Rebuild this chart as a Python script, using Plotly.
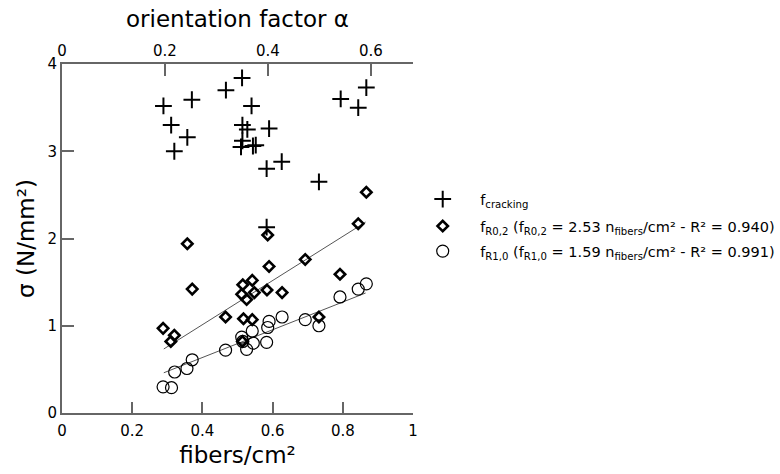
import plotly.graph_objects as go

# f_cracking
crack_x = [0.289, 0.370, 0.311, 0.357, 0.320, 0.467, 0.513, 0.540, 0.514, 0.528, 0.514, 0.510,
           0.544, 0.590, 0.626, 0.583, 0.732, 0.867, 0.794, 0.844, 0.583, 0.552]
crack_y = [3.52, 3.59, 3.30, 3.16, 3.00, 3.70, 3.84, 3.52, 3.30, 3.25, 3.12, 3.05,
           3.06, 3.26, 2.88, 2.80, 2.65, 3.73, 3.60, 3.50, 2.13, 3.07]

# f_R0,2
r02_x = [0.357, 0.371, 0.288, 0.320, 0.310, 0.466, 0.515, 0.542, 0.512, 0.526, 0.548, 0.517,
         0.542, 0.844, 0.586, 0.590, 0.693, 0.792, 0.584, 0.627, 0.732, 0.867, 0.514]
r02_y = [1.94, 1.42, 0.97, 0.89, 0.82, 1.10, 1.47, 1.52, 1.36, 1.30, 1.38, 1.08,
         1.07, 2.17, 2.04, 1.68, 1.76, 1.59, 1.41, 1.38, 1.10, 2.53, 0.82]

# f_R1,0
r10_x = [0.288, 0.312, 0.321, 0.356, 0.371, 0.466, 0.512, 0.515, 0.526, 0.542, 0.545,
         0.583, 0.586, 0.590, 0.627, 0.693, 0.732, 0.792, 0.844, 0.867]
r10_y = [0.30, 0.29, 0.47, 0.51, 0.61, 0.72, 0.87, 0.82, 0.73, 0.94, 0.80,
         0.81, 0.98, 1.05, 1.10, 1.07, 1.00, 1.33, 1.42, 1.48]

slope_r02 = 2.53
slope_r10 = 1.59
fit_x = [0.29, 0.865]

bottom_ticks = [0, 0.2, 0.4, 0.6, 0.8, 1]
top_ticks = [0, 0.2, 0.4, 0.6]
y_ticks = [0, 1, 2, 3, 4]

FONT = "DejaVu Sans"
AXC = "#666666"

fig = go.Figure()

fig.add_trace(go.Scatter(x=fit_x, y=[slope_r02 * v for v in fit_x], mode="lines",
                         line=dict(color="#555555", width=1), showlegend=False, hoverinfo="skip"))
fig.add_trace(go.Scatter(x=fit_x, y=[slope_r10 * v for v in fit_x], mode="lines",
                         line=dict(color="#555555", width=1), showlegend=False, hoverinfo="skip"))

fig.add_trace(go.Scatter(x=crack_x, y=crack_y, mode="markers", name="f<sub>cracking</sub>",
                         legend="legend",
                         marker=dict(symbol="cross-thin", size=12, color="black",
                                     line=dict(color="black", width=2))))
fig.add_trace(go.Scatter(x=r02_x, y=r02_y, mode="markers",
                         name="f<sub>R0,2</sub> (f<sub>R0,2</sub> = 2.53 n<sub>fibers</sub>/cm² - R² = 0.940)",
                         legend="legend2",
                         marker=dict(symbol="diamond-open", size=8, color="black",
                                     line=dict(color="black", width=2.6))))
fig.add_trace(go.Scatter(x=r10_x, y=r10_y, mode="markers",
                         name="f<sub>R1,0</sub> (f<sub>R1,0</sub> = 1.59 n<sub>fibers</sub>/cm² - R² = 0.991)",
                         legend="legend3",
                         marker=dict(symbol="circle-open", size=12, color="black",
                                     line=dict(color="black", width=1.2))))
# invisible trace to activate top axis
fig.add_trace(go.Scatter(x=[0], y=[0], xaxis="x2", mode="markers", marker=dict(opacity=0),
                         showlegend=False, hoverinfo="skip"))

PLOT_L, PLOT_W, PLOT_B, PLOT_H = 61.7, 351.6, 413.0, 349.3


def lx(px):
    return (px - PLOT_L) / PLOT_W


def ly(py):
    return (PLOT_B - py) / PLOT_H


leg_common = dict(xanchor="left", yanchor="middle", font=dict(size=14.5, family=FONT),
                  itemwidth=65, bgcolor="rgba(0,0,0,0)")

fig.update_layout(
    width=780, height=474,
    margin=dict(l=62, r=367, t=64, b=61, autoexpand=False),
    paper_bgcolor="white", plot_bgcolor="white",
    font=dict(family=FONT, color="black", size=14),
    xaxis=dict(range=[0, 1], tickvals=bottom_ticks, ticktext=["0", "0.2", "0.4", "0.6", "0.8", "1"],
               ticks="inside", ticklen=11, tickwidth=1.5, tickcolor=AXC,
               showline=True, linecolor=AXC, linewidth=2, showgrid=False, zeroline=False,
               title=dict(text="fibers/cm²", font=dict(size=23), standoff=8),
               tickfont=dict(size=15), ticklabelstandoff=3),
    xaxis2=dict(range=[0, 0.682], tickvals=top_ticks, ticktext=["0", "0.2", "0.4", "0.6"],
                overlaying="x", side="top", anchor="y",
                ticks="inside", ticklen=12, tickwidth=1.5, tickcolor=AXC,
                showline=True, linecolor=AXC, linewidth=2, showgrid=False, zeroline=False,
                title=dict(text="orientation factor α", font=dict(size=23), standoff=8),
                tickfont=dict(size=15)),
    yaxis=dict(range=[0, 4], tickvals=y_ticks, ticks="inside", ticklen=12, tickwidth=1.5,
               tickcolor=AXC, showline=True, linecolor=AXC, linewidth=2, showgrid=False,
               zeroline=False, title=dict(text="σ (N/mm²)", font=dict(size=23), standoff=6),
               tickfont=dict(size=15)),
    legend=dict(x=lx(405.5), y=ly(199), **leg_common),
    legend2=dict(x=lx(405.5), y=ly(226), **leg_common),
    legend3=dict(x=lx(405.5), y=ly(251), **leg_common),
)

fig.write_html("out.html")
